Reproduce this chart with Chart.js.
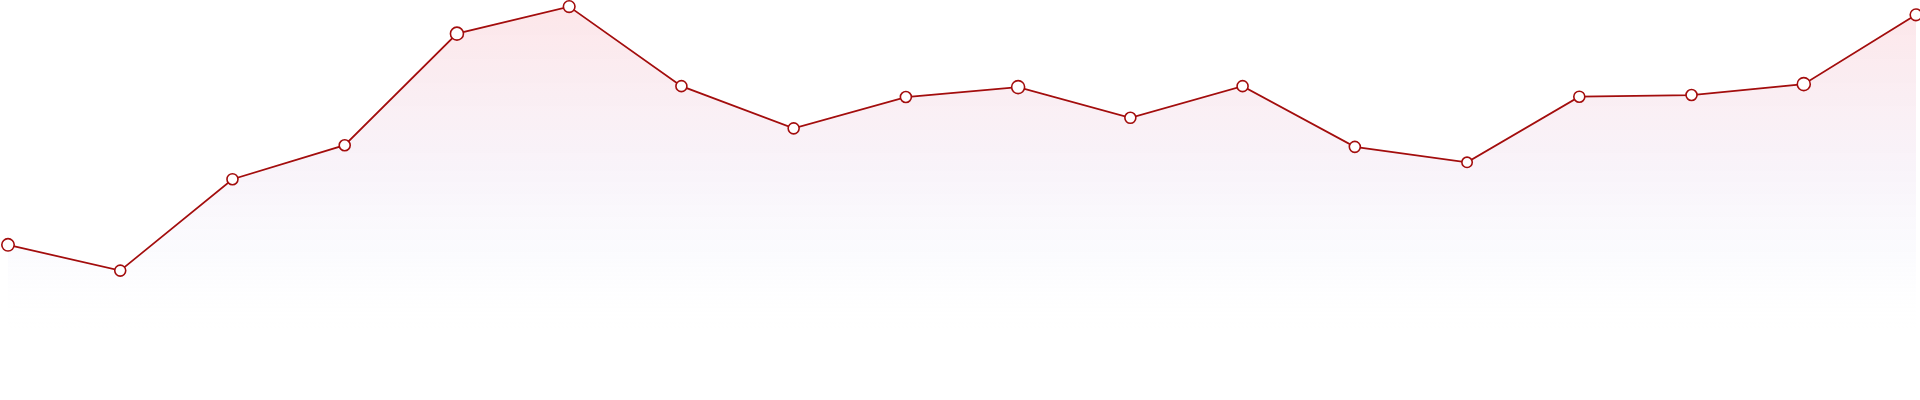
<!DOCTYPE html>
<html>
<head>
<meta charset="utf-8">
<script src="https://cdn.jsdelivr.net/npm/chart.js@4.4.1/dist/chart.umd.min.js"></script>
<style>
  html, body { margin: 0; padding: 0; background: #ffffff; }
  #wrap { width: 1920px; height: 400px; position: relative; }
</style>
</head>
<body>
<div id="wrap"><canvas id="c"></canvas></div>
<script>
const categories = ["1","2","3","4","5","6","7","8","9","10","11","12","13","14","15","16","17","18"];
const seriesValues = [25.8, 18.0, 45.7, 56.0, 89.8, 98.0, 73.9, 61.1, 70.6, 73.6, 64.3, 73.9, 55.5, 50.8, 70.7, 71.2, 74.5, 95.5];
const pointSizes = [6.2, 5.5, 5.5, 5.5, 6.5, 5.8, 5.5, 5.5, 5.5, 6.5, 5.5, 5.5, 5.5, 5.2, 5.5, 5.5, 6.5, 5.8];

const lineColor = "#a30d0d";

function fillGradient(context) {
  const chart = context.chart;
  const area = chart.chartArea;
  if (!area) return "rgba(250,235,240,0.5)";
  const g = chart.ctx.createLinearGradient(0, area.top, 0, area.bottom);
  g.addColorStop(0, "rgba(240,60,80,0.13)");
  g.addColorStop(0.5, "rgba(195,140,200,0.10)");
  g.addColorStop(0.78, "rgba(200,200,240,0.07)");
  g.addColorStop(1, "rgba(255,255,255,0)");
  return g;
}

new Chart(document.getElementById("c"), {
  type: "line",
  data: {
    labels: categories,
    datasets: [{
      data: seriesValues,
      borderColor: lineColor,
      borderWidth: 1.8,
      tension: 0,
      fill: "start",
      backgroundColor: fillGradient,
      pointRadius: pointSizes,
      pointHoverRadius: pointSizes,
      pointBackgroundColor: "#ffffff",
      pointBorderColor: lineColor,
      pointBorderWidth: 1.6,
      clip: false
    }]
  },
  options: {
    responsive: true,
    maintainAspectRatio: false,
    animation: false,
    layout: { autoPadding: false, padding: { left: 8, right: 4, top: 0, bottom: 70 } },
    plugins: { legend: { display: false }, tooltip: { enabled: false } },
    scales: {
      x: { display: false, offset: false },
      y: { display: false, min: 0, max: 100 }
    }
  }
});
</script>
</body>
</html>
